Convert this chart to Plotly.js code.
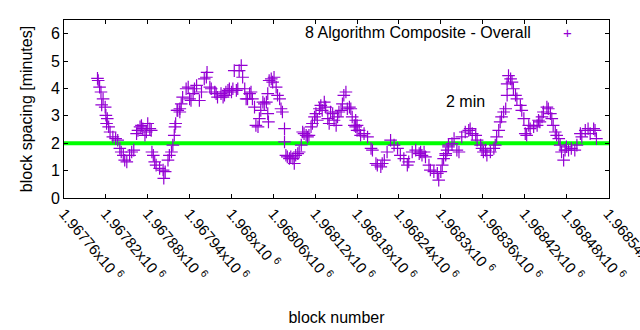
<!DOCTYPE html>
<html>
<head>
<meta charset="utf-8">
<script src="https://cdn.plot.ly/plotly-3.0.1.min.js"></script>
<style>html,body{margin:0;padding:0;background:#fff;}#chart{width:640px;height:330px;}</style>
</head>
<body>
<div id="chart"></div>
<script>
// block numbers (x) and block spacing in minutes (y)
var blocks = [
1967808,1967809,1967811,1967813,1967814,1967816,1967819,1967820,1967821,1967822,
1967824,1967826,1967830,1967834,1967837,1967840,1967842,1967845,1967847,1967850,
1967854,1967857,1967860,1967864,1967866,1967869,1967871,1967873,1967876,1967878,
1967880,1967883,1967885,1967886,1967888,1967890,1967892,1967897,1967902,1967903,
1967905,1967909,1967911,1967914,1967916,1967918,1967919,1967920,1967922,1967923,
1967926,1967926,1967928,1967930,1967935,1967938,1967940,1967942,1967945,1967947,
1967950,1967954,1967957,1967961,1967964,1967965,1967969,1967971,1967976,1967978,
1967980,1967985,1967988,1967990,1967992,1967995,1967997,1968000,1968002,1968004,
1968007,1968009,1968011,1968014,1968016,1968019,1968021,1968023,1968026,1968028,
1968030,1968033,1968035,1968038,1968040,1968042,1968045,1968047,1968050,1968052,
1968052,1968053,1968054,1968057,1968059,1968061,1968064,1968066,1968069,1968071,
1968073,1968076,1968076,1968078,1968080,1968083,1968085,1968088,1968090,1968092,
1968095,1968097,1968100,1968102,1968104,1968107,1968109,1968111,1968114,1968116,
1968119,1968121,1968123,1968126,1968128,1968130,1968133,1968135,1968138,1968140,
1968142,1968145,1968147,1968150,1968152,1968154,1968157,1968159,1968161,1968164,
1968166,1968169,1968171,1968173,1968176,1968178,1968178,1968180,1968180,1968183,
1968185,1968190,1968195,1968200,1968202,1968207,1968209,1968214,1968216,1968219,
1968223,1968228,1968233,1968238,1968242,1968247,1968252,1968254,1968259,1968264,
1968269,1968271,1968273,1968276,1968278,1968283,1968285,1968290,1968295,1968297,
1968300,1968302,1968304,1968307,1968307,1968309,1968311,1968311,1968316,1968319,
1968323,1968326,1968330,1968335,1968340,1968342,1968345,1968350,1968352,1968357,
1968359,1968361,1968364,1968366,1968371,1968376,1968378,1968380,1968383,1968385,
1968387,1968390,1968393,1968395,1968395,1968397,1968400,1968402,1968404,1968407,
1968409,1968414,1968416,1968419,1968421,1968423,1968426,1968428,1968433,1968438,
1968440,1968442,1968445,1968447,1968452,1968454,1968457,1968459,1968461,1968464,
1968466,1968469,1968471,1968473,1968476,1968478,1968480,1968483,1968487,1968492,
1968495,1968500,1968502,1968507,1968511,1968514,1968519,1968521,1968523
];
var spacing = [
4.37,4.29,4.05,3.87,3.40,3.62,3.32,3.02,2.72,2.90,
2.60,2.41,2.23,2.17,2.11,1.81,1.68,1.56,1.38,1.32,
1.56,1.68,1.75,2.35,2.47,2.60,2.65,2.53,2.29,2.41,
2.72,2.53,2.47,1.68,1.56,1.32,1.20,1.08,1.02,0.72,
0.96,1.38,1.56,1.68,1.93,2.29,2.60,2.72,3.20,3.20,
3.14,3.26,3.44,3.68,3.99,4.05,3.62,3.56,3.81,3.99,
4.11,3.56,3.87,4.35,4.41,4.59,4.05,3.99,3.87,3.81,
3.68,3.81,3.68,3.75,3.87,3.93,3.99,3.87,3.99,4.65,
3.93,3.99,4.65,4.84,4.41,3.99,3.62,3.62,3.81,3.87,
3.62,3.32,2.65,2.60,2.90,3.20,3.50,3.44,3.50,3.81,
3.08,2.78,4.29,4.35,4.23,4.41,4.05,3.75,3.62,3.26,
3.14,2.53,2.05,1.56,1.50,1.44,1.50,1.44,1.26,1.56,
1.62,1.68,1.93,2.41,2.35,2.29,2.23,2.29,2.60,2.72,
2.96,3.08,2.84,3.26,3.38,3.20,3.50,3.32,2.90,2.72,
3.14,3.08,2.84,2.65,2.96,3.14,3.20,3.44,3.75,3.87,
3.26,3.32,3.26,2.96,2.65,2.60,2.84,2.47,2.65,2.47,
2.29,2.35,2.23,1.81,1.75,1.26,1.20,1.14,1.26,1.38,
1.68,2.11,1.93,1.81,1.56,1.44,1.20,1.32,1.68,1.75,
1.62,1.68,1.56,1.68,1.50,1.20,1.02,0.96,0.90,0.65,
0.96,1.20,1.44,1.62,1.56,1.75,1.93,1.87,1.99,2.17,
1.75,1.68,2.23,2.41,2.47,2.53,2.35,2.29,2.11,1.93,
1.81,1.68,1.75,1.56,1.68,1.81,1.93,2.23,2.47,2.78,
2.96,3.14,3.26,3.75,4.17,4.47,4.35,4.23,3.99,3.75,
3.62,3.38,3.20,2.90,2.35,2.29,2.65,2.53,2.60,2.65,
2.84,2.78,2.96,3.14,3.32,3.26,3.08,2.90,2.65,2.41,
2.29,2.17,1.93,1.68,1.38,1.75,1.87,1.75,1.81,1.75,
1.93,2.35,2.23,2.47,2.53,2.35,2.53,2.47,2.17
];
var xTickVals = [1967760,1967820,1967880,1967940,1968000,1968060,1968120,1968180,1968240,1968300,1968360,1968420,1968480,1968540];
var xTickText = ["1.96776x10 <sup>6</sup>","1.96782x10 <sup>6</sup>","1.96788x10 <sup>6</sup>","1.96794x10 <sup>6</sup>","1.968x10 <sup>6</sup>","1.96806x10 <sup>6</sup>","1.96812x10 <sup>6</sup>","1.96818x10 <sup>6</sup>","1.96824x10 <sup>6</sup>","1.9683x10 <sup>6</sup>","1.96836x10 <sup>6</sup>","1.96842x10 <sup>6</sup>","1.96848x10 <sup>6</sup>","1.96854x10 <sup>6</sup>"];
var xRange = [1967760, 1968541];
var yRange = [0, 6.5];
var yTickVals = [0, 1, 2, 3, 4, 5, 6];
var targetMinutes = 2;
var seriesName = "8 Algorithm Composite - Overall";
var targetLabel = "2 min";

var purple = "#9400d3";
var fam = "Liberation Sans, Arial, sans-serif";
var font = {family: fam, size: 16, color: "#000"};

var traces = [
  {
    x: [xRange[0], xRange[1]],
    y: [targetMinutes, targetMinutes],
    mode: "lines",
    line: {color: "#00ff00", width: 4},
    hoverinfo: "skip",
    showlegend: false
  },
  {
    x: blocks,
    y: spacing,
    mode: "markers",
    name: seriesName,
    marker: {symbol: "cross-thin-open", size: 9, color: purple, line: {color: purple, width: 1.2}},
    showlegend: false
  }
];

var layout = {
  width: 640, height: 330,
  margin: {l: 64, r: 31, t: 20, b: 132},
  paper_bgcolor: "#fff", plot_bgcolor: "#fff",
  font: font,
  showlegend: false,
  xaxis: {
    range: xRange, tickmode: "array", tickvals: xTickVals, ticktext: xTickText,
    tickangle: 50, ticks: "inside", ticklen: 4, tickcolor: "#000",
    ticklabeloverflow: "allow",
    showline: true, linecolor: "#000", linewidth: 1, mirror: "allticks",
    showgrid: false, zeroline: false, automargin: false,
    tickfont: {family: fam, size: 15, color: "#000"},
    title: {text: "block number", font: font, standoff: 28}
  },
  yaxis: {
    range: yRange, tickmode: "array", tickvals: yTickVals,
    ticks: "inside", ticklen: 4, tickcolor: "#000",
    showline: true, linecolor: "#000", linewidth: 1, mirror: "allticks",
    showgrid: false, zeroline: false, automargin: false,
    tickfont: font,
    title: {text: "block spacing [minutes]", font: font, standoff: 14}
  },
  annotations: [
    {xref: "paper", yref: "paper", x: 0.8606, y: 0.927, xanchor: "right", yanchor: "middle",
     text: seriesName, showarrow: false, font: font},
    {xref: "paper", yref: "paper", x: 0.923, y: 0.927, xanchor: "center", yanchor: "middle",
     text: "+", showarrow: false, font: {family: fam, size: 15, color: purple}},
    {xref: "paper", yref: "paper", x: 0.7376, y: 0.542, xanchor: "center", yanchor: "middle",
     text: targetLabel, showarrow: false, font: font}
  ]
};

Plotly.newPlot("chart", traces, layout, {displayModeBar: false, staticPlot: true});
</script>
</body>
</html>
